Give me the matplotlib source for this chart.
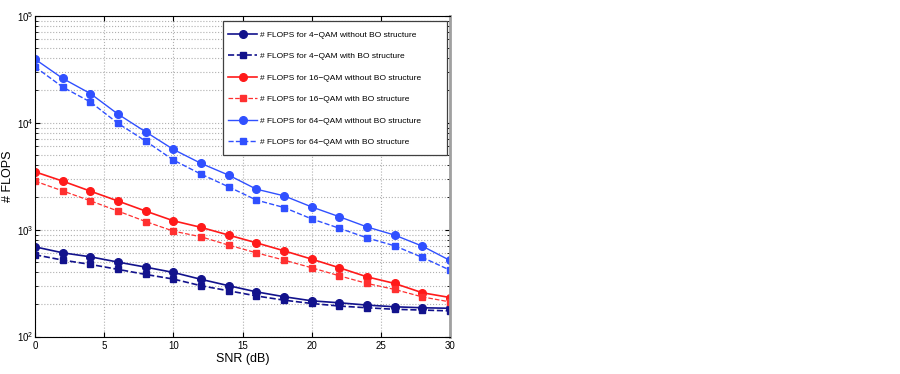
import matplotlib
matplotlib.use('Agg')
import matplotlib.pyplot as plt
from matplotlib.patches import Rectangle

plt.rcParams['font.family'] = ['Liberation Sans', 'DejaVu Sans']

snr = [0, 2, 4, 6, 8, 10, 12, 14, 16, 18, 20, 22, 24, 26, 28, 30]

# FLOPS
qam4_without = [690, 607, 557, 497, 446, 398, 343, 299, 262, 236, 216, 207, 197, 190, 186, 184]
qam4_with = [582, 519, 473, 425, 381, 345, 299, 268, 240, 219, 204, 193, 186, 180, 177, 174]
qam16_without = [3470, 2840, 2290, 1850, 1490, 1210, 1050, 889, 753, 634, 530, 440, 362, 314, 257, 232]
qam16_with = [2840, 2300, 1860, 1490, 1190, 968, 857, 716, 607, 519, 440, 370, 314, 276, 235, 211]
qam64_without = [39200, 25900, 18700, 12000, 8200, 5620, 4160, 3230, 2390, 2070, 1630, 1320, 1060, 889, 701, 515]
qam64_with = [33200, 21500, 15600, 9840, 6720, 4470, 3300, 2510, 1890, 1610, 1260, 1030, 838, 706, 550, 418]

labels = ['# FLOPS for 4\u2212QAM without BO structure',
          '# FLOPS for 4\u2212QAM with BO structure',
          '# FLOPS for 16\u2212QAM without BO structure',
          '# FLOPS for 16\u2212QAM with BO structure',
          '# FLOPS for 64\u2212QAM without BO structure',
          '# FLOPS for 64\u2212QAM with BO structure']

navy = '#12128c'
red = '#ff1a1a'
blue = '#3050ff'

fig = plt.figure(figsize=(9, 3.74), dpi=100)
ax = fig.add_axes([0.039, 0.1, 0.461, 0.858])

ax.semilogy(snr, qam4_without, '-', color=navy, marker='o', ms=5.5, lw=1.2, label=labels[0])
ax.semilogy(snr, qam4_with, '--', color=navy, marker='s', ms=5, lw=1.2, label=labels[1])
ax.semilogy(snr, qam16_without, '-', color=red, marker='o', ms=5.5, lw=1.2, label=labels[2])
ax.semilogy(snr, qam16_with, '--', color='#ff3030', marker='s', ms=5, lw=0.9, label=labels[3])
ax.semilogy(snr, qam64_without, '-', color=blue, marker='o', ms=5.5, lw=1.0, label=labels[4])
ax.semilogy(snr, qam64_with, '--', color=blue, marker='s', ms=5, lw=1.0, label=labels[5])

ax.set_xlim(0, 30)
ax.set_ylim(1e2, 1e5)
ax.set_xticks([0, 5, 10, 15, 20, 25, 30])
ax.tick_params(which='both', direction='in', labelsize=7, top=True, right=True)
ax.tick_params(axis='y', pad=1)
ax.grid(True, which='major', linestyle=':', color='#b0b0b0', lw=0.8)
ax.grid(True, which='minor', axis='y', linestyle=':', color='#b0b0b0', lw=0.8)
ax.spines['right'].set_color('#a0a0a0')
ax.spines['right'].set_linewidth(2)

ax.set_xlabel('SNR (dB)', fontsize=9, labelpad=1)
ax.set_ylabel('# FLOPS', fontsize=9)
ax.yaxis.set_label_coords(-0.05, 0.5)

# legend box drawn by hand (MATLAB style, wide right margin)
ax.add_patch(Rectangle((0.453, 0.566), 0.540, 0.4175, transform=ax.transAxes,
                       facecolor='white', edgecolor='#404040', lw=0.9, zorder=4))
leg = ax.legend(loc='upper left', fontsize=6.0, labelspacing=1.63, handlelength=3.48,
                handletextpad=0.36, borderpad=0, borderaxespad=0,
                bbox_to_anchor=(0.465, 0.952), frameon=False)
leg.set_zorder(5)

plt.savefig('out.png', dpi=100)
